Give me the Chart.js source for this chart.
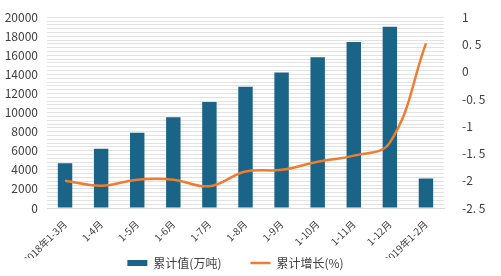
<!DOCTYPE html>
<html>
<head>
<meta charset="utf-8">
<script src="https://cdn.jsdelivr.net/npm/chart.js@4/dist/chart.umd.min.js"></script>
<style>
  html, body { margin: 0; padding: 0; background: #fff; }
  #box { width: 501px; height: 276px; }
</style>
</head>
<body>
<div id="box"><canvas id="myChart"></canvas></div>
<script>
// datos
const categorias = ["2018年1-3月", "1-4月", "1-5月", "1-6月", "1-7月", "1-8月", "1-9月", "1-10月", "1-11月", "1-12月", "2019年1-2月"];
const acumulado = [4700, 6200, 7900, 9500, 11100, 12700, 14200, 15800, 17400, 19000, 3100];
const crecimiento = [-2.0, -2.09, -1.98, -1.98, -2.1, -1.83, -1.8, -1.65, -1.54, -1.3, 0.52];
const ticksDerecha = ["1", "0. 5", "0", "-0. 5", "-1", "-1. 5", "-2", "-2. 5"];

const fuente = "'Noto Sans CJK SC', 'Noto Sans', sans-serif";
Chart.defaults.font.family = fuente;
Chart.defaults.color = "#404040";

// etiqueta derecha segun valor
const etiquetaDerecha = (v) => {
    const i = Math.round((1 - v) / 0.5);
    return ticksDerecha[i] !== undefined ? ticksDerecha[i] : "";
};

// la leyenda va debajo de las etiquetas giradas, se sube un poco
const moverLeyenda = {
    id: "moverLeyenda",
    afterLayout(chart) {
        const l = chart.legend;
        l.top = 228;
        l.bottom = chart.height;
        l.height = l.bottom - l.top;
        l.left -= 15;
        l.right -= 15;
    }
};

const chartDOM = document.getElementById("myChart");
const myChart = new Chart(chartDOM, {
    data: {
        labels: categorias,
        datasets: [
            {
                type: "line",
                label: "累计增长(%)",
                data: crecimiento,
                yAxisID: "y2",
                borderColor: "#ed7d31",
                backgroundColor: "#ed7d31",
                borderWidth: 2.5,
                pointRadius: 0,
                pointStyle: "line",
                tension: 0.4,
                order: 0
            },
            {
                type: "bar",
                label: "累计值(万吨)",
                data: acumulado,
                yAxisID: "y",
                backgroundColor: "#1a6487",
                borderWidth: 0,
                pointStyle: "rect",
                barPercentage: 0.4,
                categoryPercentage: 1,
                order: 1
            }
        ]
    },
    options: {
        responsive: true,
        maintainAspectRatio: false,
        animation: false,
        layout: { padding: { top: 8, left: 0, right: 0, bottom: 0 } },
        plugins: {
            tooltip: { enabled: false },
            legend: {
                position: "bottom",
                reverse: true,
                maxHeight: 18,
                labels: {
                    usePointStyle: true,
                    pointStyleWidth: 20,
                    boxWidth: 20,
                    boxHeight: 6,
                    padding: 29,
                    font: { size: 12 },
                    color: "#404040"
                }
            }
        },
        scales: {
            x: {
                offset: true,
                grid: { display: false },
                border: { color: "#d9d9d9" },
                ticks: {
                    maxRotation: 45,
                    minRotation: 45,
                    autoSkip: false,
                    font: { size: 10 },
                    color: "#404040",
                    padding: 2
                },
                afterFit: (s) => { s.height = 50; }
            },
            y: {
                position: "left",
                min: 0,
                max: 20000,
                grid: { color: "#e2e2e2", lineWidth: 1, drawTicks: false },
                border: { display: false },
                ticks: {
                    stepSize: 400,
                    maxTicksLimit: 100,
                    autoSkip: false,
                    padding: 9,
                    font: { size: 12 },
                    color: "#404040",
                    callback: (v) => (v % 2000 === 0 ? String(v) : "")
                },
                afterFit: (s) => { s.width = 47; }
            },
            y2: {
                position: "right",
                min: -2.5,
                max: 1,
                grid: { display: false },
                border: { display: false },
                ticks: {
                    stepSize: 0.5,
                    padding: 10,
                    font: { size: 12 },
                    color: "#404040",
                    callback: (v) => etiquetaDerecha(v)
                },
                afterFit: (s) => { s.width = 57; }
            }
        }
    },
    plugins: [moverLeyenda]
});
</script>
</body>
</html>
